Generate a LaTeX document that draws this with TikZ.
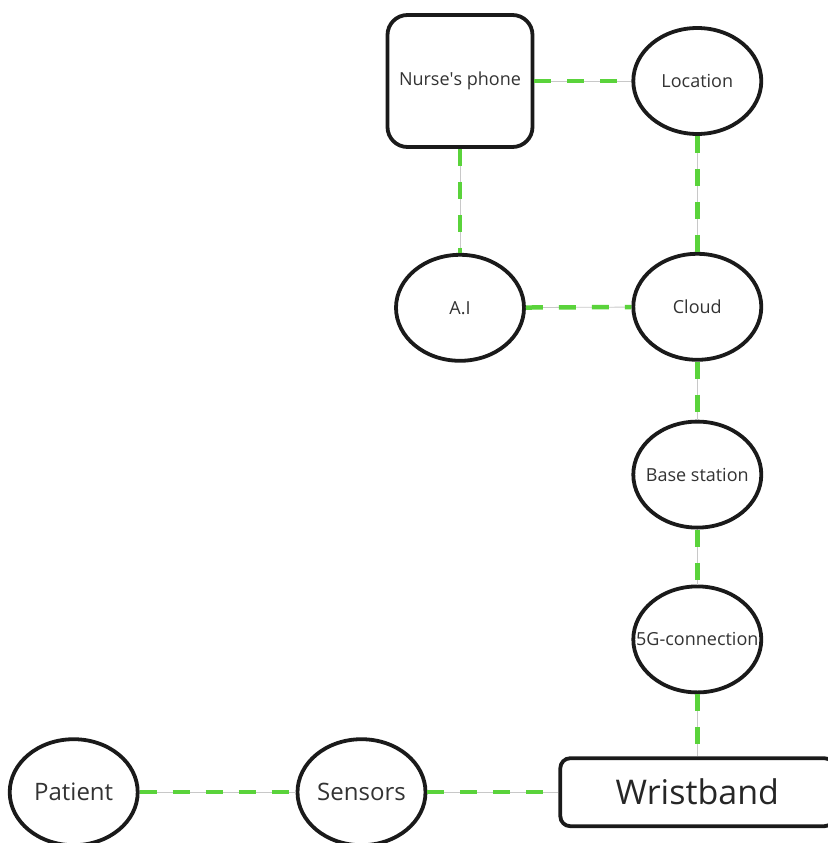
\documentclass[tikz,border=0pt]{standalone}
\usepackage{fontspec}
\setmainfont{Open Sans}
\usepackage{tikz}
\usetikzlibrary{
    shapes.geometric,
    positioning
}
\definecolor{wbgreen}{HTML}{5AD33B}
\definecolor{wbgray}{HTML}{C8C8C8}
\definecolor{wbtext}{HTML}{333333}
\definecolor{wbborder}{HTML}{1A1A1A}
\tikzset{
    % Ellipse node
    wbellipse/.style={
        ellipse,
        draw=wbborder,
        line width=3.8pt,
        fill=white,
        text=wbtext,
        font=\fontsize{18}{21}\selectfont,
        minimum width=128pt,
        minimum height=106pt,
        inner sep=0pt
    },
    % Rounded box
    wbbox/.style={
        rectangle,
        rounded corners=#1,
        draw=wbborder,
        line width=3.8pt,
        fill=white,
        text=wbtext,
        align=center,
        inner sep=0pt
    },
    wbbox/.default=20pt,
    % Dashed link
    wblink/.style={
        draw=wbgreen,
        line width=4.5pt,
        dash pattern=on 17pt off 16pt,
        preaction={draw=wbgray, line width=0.8pt, solid}
    }
}
\newcommand{\wblabel}[1]{\makebox[0pt]{#1}}

\begin{document}
\begin{tikzpicture}[x=1pt, y=-1pt]

    \useasboundingbox (0,0) rectangle (827,843);

    % Upper part
    \node[wbbox, minimum width=145pt, minimum height=132pt,
          font=\fontsize{18}{21}\selectfont] (phone) at (460,81) {Nurse\textquotesingle s phone};
    \node[wbellipse, right=97pt of phone] (location) {\wblabel{Location}};
    \node[wbellipse, below=104pt of phone] (ai) {\wblabel{A.I}};
    \node[wbellipse, below=116pt of location] (cloud) {\wblabel{Cloud}};

    % Right column
    \node[wbellipse, below=58pt of cloud] (base) {\wblabel{Base station}};
    \node[wbellipse, below=55pt of base] (fiveg) {\wblabel{5G-connection}};
    \node[wbbox=10pt, minimum width=274pt, minimum height=68pt,
          font=\fontsize{34}{40}\selectfont, text=black!85,
          below=62pt of fiveg] (wristband) {Wristband};

    % Bottom row
    \node[wbellipse, font=\fontsize{24}{28}\selectfont,
          left=131pt of wristband] (sensors) {\wblabel{Sensors}};
    \node[wbellipse, font=\fontsize{24}{28}\selectfont,
          left=156pt of sensors] (patient) {\wblabel{Patient}};

    % Links
    \draw[wblink] (phone) -- (location);
    \draw[wblink] (phone) -- (ai);
    \draw[wblink] (location) -- (cloud);
    \draw[wblink] (ai) -- (cloud);
    \draw[wblink] (cloud) -- (base);
    \draw[wblink] (base) -- (fiveg);
    \draw[wblink] (fiveg) -- (wristband);
    \draw[wblink] (sensors) -- (wristband);
    \draw[wblink] (patient) -- (sensors);

\end{tikzpicture}
\end{document}
